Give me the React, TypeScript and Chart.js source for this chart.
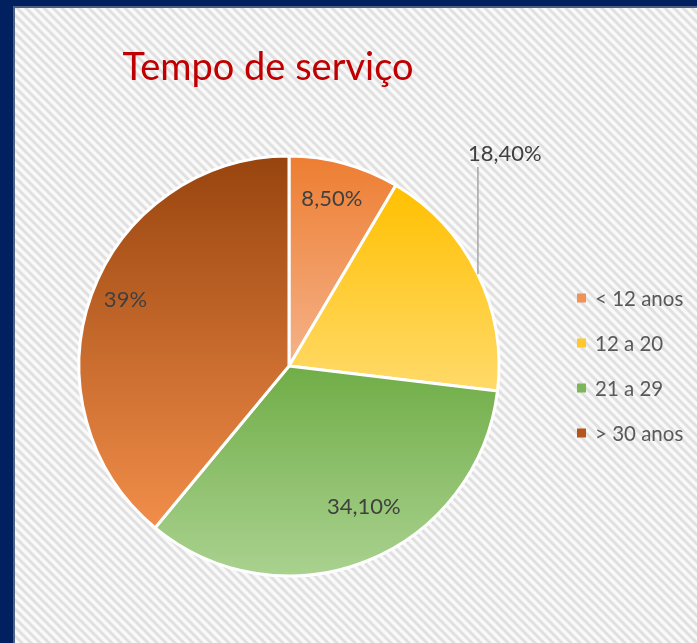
import React, { useEffect, useRef } from "react";
import { Chart, registerables } from "chart.js";
Chart.register(...registerables);

const TITLE = "Tempo de serviço";
const categories = ["< 12 anos", "12 a 20", "21 a 29", "> 30 anos"];
const values = [8.5, 18.4, 34.1, 39];
const valueLabels = ["8,50%", "18,40%", "34,10%", "39%"];
const topColors = ["#ED7D31", "#FFC000", "#70AD47", "#98440E"];
const bottomColors = ["#F5B38A", "#FFDA6A", "#AAD290", "#F28E4A"];
const legendColors = ["#F0915A", "#FFC92E", "#7CB55A", "#B5561F"];

// label placement: fraction of radius and angle offset (deg) from slice mid-angle
const labelRadius = [0.82, 1.44, 0.76, 0.84];
const labelAngleOffset = [-0.9, -18.2, -6.2, 2.2];
const leaderIndex = 1;

const W = 697;
const H = 643;
const FONT = "Lato, 'Open Sans', sans-serif";

function makePattern(ctx: CanvasRenderingContext2D) {
  const T = 9;
  const c = document.createElement("canvas");
  c.width = T;
  c.height = T;
  const p = c.getContext("2d")!;
  p.fillStyle = "#f9f9f9";
  p.fillRect(0, 0, T, T);
  p.strokeStyle = "#e0e0e0";
  p.lineWidth = 3;
  p.beginPath();
  for (let k = -1; k <= 1; k++) {
    p.moveTo(-2, -2 + T * k);
    p.lineTo(T + 2, T + 2 + T * k);
  }
  p.stroke();
  return ctx.createPattern(c, "repeat");
}

function sliceGradient(context: any) {
  const chart = context.chart;
  const i = context.dataIndex;
  const area = chart.chartArea;
  if (!area || i === undefined) return topColors[i ?? 0];
  const cx = (area.left + area.right) / 2;
  const cy = (area.top + area.bottom) / 2;
  const R = Math.min(area.right - area.left, area.bottom - area.top) / 2;
  const total = values.reduce((a, b) => a + b, 0);
  let start = 0;
  for (let k = 0; k < i; k++) start += values[k];
  const a0 = (start / total) * 360;
  const a1 = ((start + values[i]) / total) * 360;
  const ys: number[] = [cy];
  const pt = (deg: number) => cy - R * Math.cos((deg * Math.PI) / 180);
  ys.push(pt(a0), pt(a1));
  if (a0 <= 0 || (a0 < 360 && a1 >= 360)) ys.push(cy - R);
  if (a0 < 180 && a1 > 180) ys.push(cy + R);
  const top = Math.min(...ys);
  const bottom = Math.max(...ys);
  const g = chart.ctx.createLinearGradient(0, top, 0, bottom);
  g.addColorStop(0, topColors[i]);
  g.addColorStop(1, bottomColors[i]);
  return g;
}

const decorPlugin = {
  id: "decor",
  beforeDraw(chart: any) {
    const ctx = chart.ctx as CanvasRenderingContext2D;
    ctx.save();
    ctx.fillStyle = "#002060";
    ctx.fillRect(0, 0, W, H);
    ctx.fillStyle = "#4d6283";
    ctx.fillRect(13, 6, W, H);
    const pat = makePattern(ctx);
    ctx.fillStyle = pat || "#f0f0f0";
    ctx.fillRect(15, 8, W, H);
    ctx.restore();
  },
  afterDatasetsDraw(chart: any) {
    const ctx = chart.ctx as CanvasRenderingContext2D;
    const meta = chart.getDatasetMeta(0);
    ctx.save();
    ctx.font = `22px ${FONT}`;
    ctx.fillStyle = "#404040";
    ctx.textAlign = "center";
    ctx.textBaseline = "middle";
    meta.data.forEach((el: any, i: number) => {
      const { x, y, startAngle, endAngle, outerRadius } = el.getProps(
        ["x", "y", "startAngle", "endAngle", "outerRadius"],
        true
      );
      const mid = (startAngle + endAngle) / 2 + (labelAngleOffset[i] * Math.PI) / 180;
      const r = outerRadius * labelRadius[i];
      const lx = x + r * Math.cos(mid);
      const ly = y + r * Math.sin(mid);
      ctx.fillText(valueLabels[i], lx, ly);
      if (i === leaderIndex) {
        const w = ctx.measureText(valueLabels[i]).width;
        const lineX = lx - w / 2 + 10;
        const dx = lineX - x;
        const endY = y - Math.sqrt(Math.max(outerRadius * outerRadius - dx * dx, 0));
        ctx.strokeStyle = "#a6a6a6";
        ctx.lineWidth = 1.5;
        ctx.beginPath();
        ctx.moveTo(lineX, ly + 13);
        ctx.lineTo(lineX, endY);
        ctx.stroke();
      }
    });
    ctx.restore();
  },
  afterDraw(chart: any) {
    const ctx = chart.ctx as CanvasRenderingContext2D;
    ctx.save();
    // title
    ctx.font = `36px ${FONT}`;
    const tw = ctx.measureText(TITLE).width;
    const size = 36 * (291 / tw);
    ctx.font = `${size.toFixed(1)}px ${FONT}`;
    ctx.fillStyle = "#C00000";
    ctx.textAlign = "center";
    ctx.textBaseline = "alphabetic";
    ctx.fillText(TITLE, 268, 80);
    // legend
    ctx.font = `20.5px ${FONT}`;
    ctx.textAlign = "left";
    ctx.textBaseline = "middle";
    categories.forEach((c, i) => {
      const cy = 298 + i * 45;
      ctx.fillStyle = legendColors[i];
      ctx.fillRect(577, cy - 4.5, 9, 9);
      ctx.fillStyle = "#595959";
      ctx.fillText(c, 595, cy + 1);
    });
    ctx.restore();
  },
};

export default function App() {
  const ref = useRef<HTMLCanvasElement>(null);
  useEffect(() => {
    document.body.style.margin = "0";
    const chart = new Chart(ref.current!, {
      type: "pie",
      data: {
        labels: categories,
        datasets: [
          {
            data: values,
            backgroundColor: sliceGradient as any,
            borderColor: "#ffffff",
            borderWidth: 3,
          },
        ],
      },
      options: {
        responsive: false,
        animation: false,
        devicePixelRatio: 1,
        layout: { padding: { left: 77.5, top: 154.5, right: 196.5, bottom: 65.5 } },
        plugins: {
          legend: { display: false },
          title: { display: false },
          tooltip: { enabled: false },
        },
      },
      plugins: [decorPlugin],
    });
    return () => chart.destroy();
  }, []);
  return (
    <div style={{ width: W, height: H }}>
      <canvas ref={ref} width={W} height={H} style={{ display: "block" }} />
    </div>
  );
}
